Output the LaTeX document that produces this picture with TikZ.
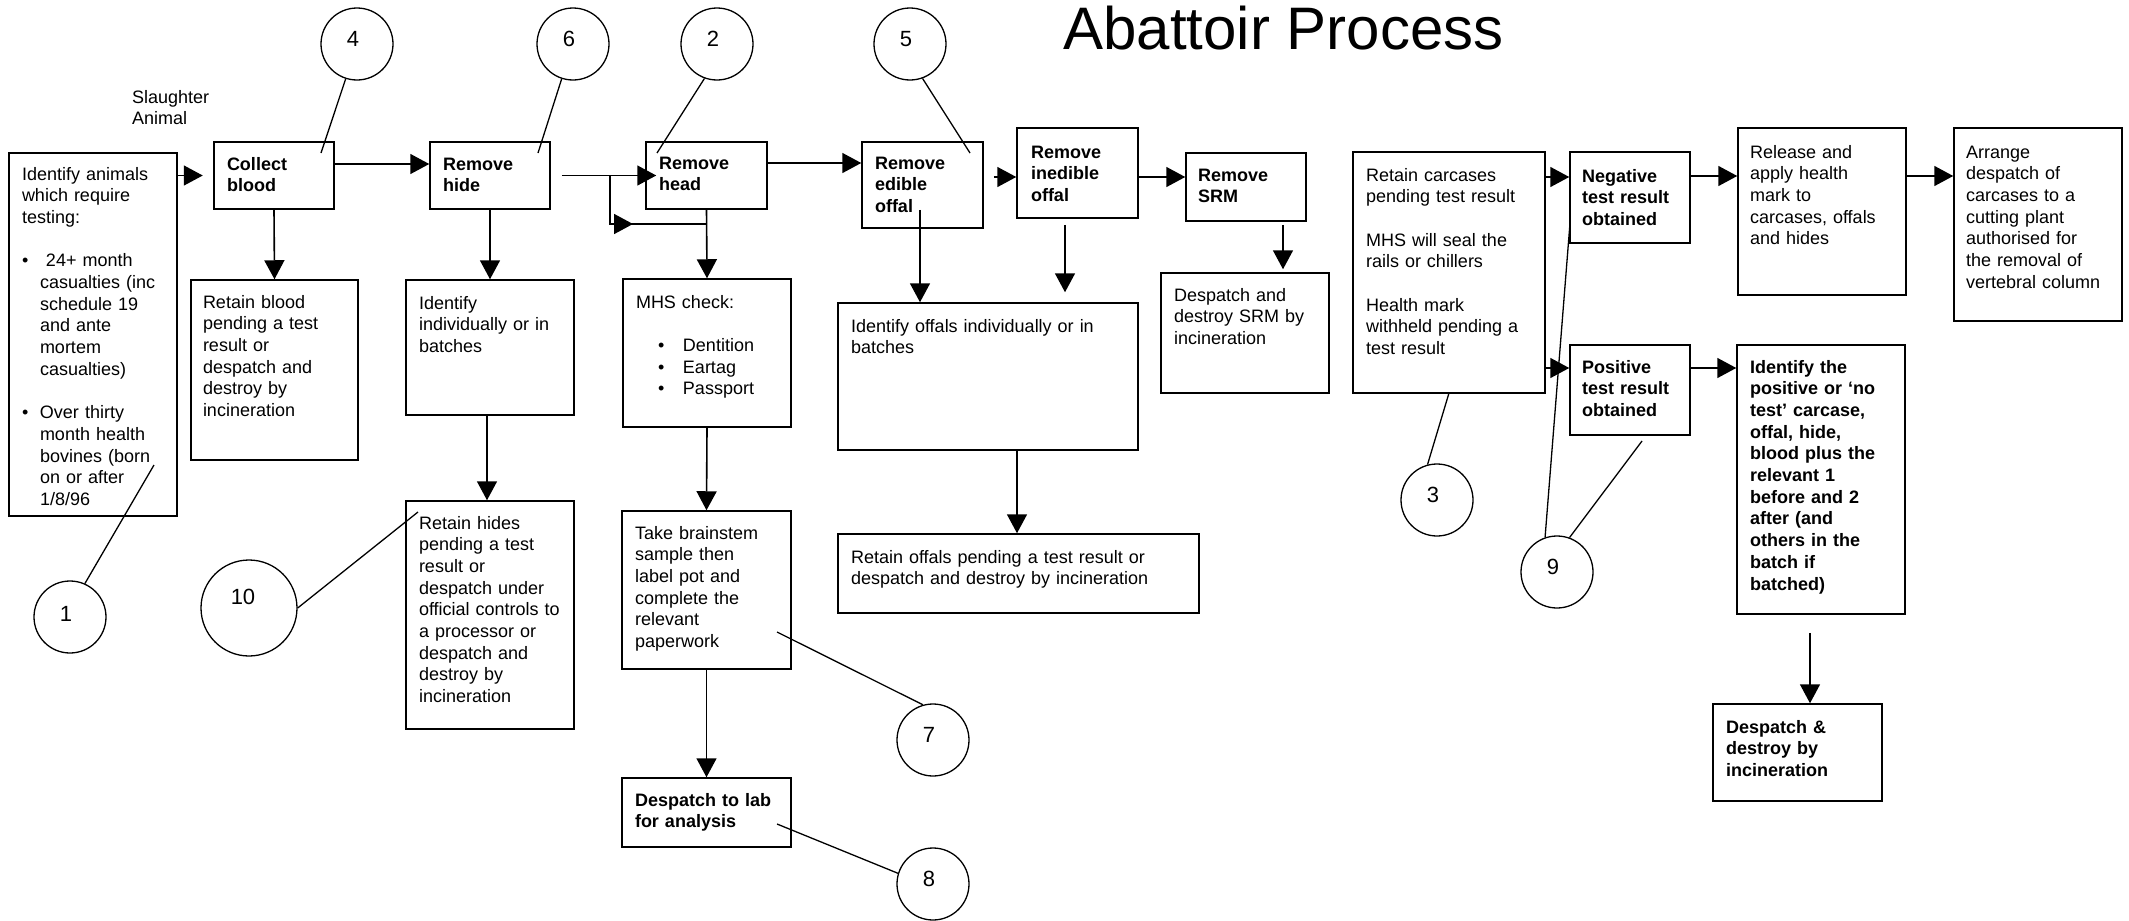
\documentclass[tikz,border=0pt]{standalone}
\usepackage{fontspec}
\setmainfont{Liberation Sans}
\usetikzlibrary{arrows.meta,fit,calc}
\begin{document}
\begin{tikzpicture}[x=1pt,y=-1pt,
  box/.style={draw, line width=1.5pt, inner sep=0pt},
  txt/.style={anchor=base west, inner sep=0pt, outer sep=0pt, align=left, font=\fontsize{18}{21.7}\selectfont},
  btxt/.style={txt, font=\fontsize{18}{21.7}\selectfont\bfseries},
  arr/.style={line width=1.6pt, -{Triangle[length=19pt,width=20pt]}},
  conn/.style={line width=1.6pt},
  num/.style={draw, circle, line width=1.3pt, minimum size=72pt, inner sep=0pt},
  numtxt/.style={inner sep=0pt, font=\fontsize{22}{26}\selectfont},
  lead/.style={line width=1.3pt}]
\fill[white] (0,0) rectangle (2129,921);
\useasboundingbox (0,0) rectangle (2129,921);

% title
\node[anchor=base, inner sep=0pt, font=\fontsize{60}{72}\selectfont] (title) at (1283.5,49) {Abattoir Process};
\node[txt, text width=100pt] (slaughter) at (132,103) {Slaughter\\Animal};

% boxes
\node[box, fit={(9,153) (177,516)}] (idA) {};
\node[box, fit={(214,142) (334,209)}] (collect) {};
\node[box, fit={(430,142) (550,209)}] (hide) {};
\node[box, fit={(646,142) (767,209)}] (head) {};
\node[box, fit={(862,142) (983,228)}] (edible) {};
\node[box, fit={(1017,128) (1138,218)}] (inedible) {};
\node[box, fit={(1186,153) (1306,221)}] (srm) {};
\node[box, fit={(1353,152) (1545,393)}] (carc) {};
\node[box, fit={(1570,152) (1690,243)}] (neg) {};
\node[box, fit={(1738,128) (1906,295)}] (release) {};
\node[box, fit={(1954,128) (2122,321)}] (arrange) {};
\node[box, fit={(1570,345) (1690,435)}] (pos) {};
\node[box, fit={(1737,345) (1905,614)}] (ident) {};
\node[box, fit={(1713,704) (1882,801)}] (desd) {};
\node[box, fit={(191,280) (358,460)}] (rblood) {};
\node[box, fit={(406,280) (574,415)}] (indiv) {};
\node[box, fit={(406,501) (574,729)}] (rhides) {};
\node[box, fit={(623,279) (791,427)}] (mhs) {};
\node[box, fit={(622,511) (791,669)}] (brain) {};
\node[box, fit={(622,778) (791,847)}] (lab) {};
\node[box, fit={(838,303) (1138,450)}] (ioffals) {};
\node[box, fit={(838,534) (1199,613)}] (roffals) {};
\node[box, fit={(1161,273) (1329,393)}] (dsrm) {};

% texts
\node[txt, text width=153pt] (t-idA) at (22,180) {Identify animals\\which require\\testing:\\[21.7pt]
\makebox[18pt][l]{\textbullet}\ 24+ month\\
\hspace*{18pt}casualties (inc\\
\hspace*{18pt}schedule 19\\
\hspace*{18pt}and ante\\
\hspace*{18pt}mortem\\
\hspace*{18pt}casualties)\\[21.7pt]
\makebox[18pt][l]{\textbullet}Over thirty\\
\hspace*{18pt}month health\\
\hspace*{18pt}bovines (born\\
\hspace*{18pt}on or after\\
\hspace*{18pt}1/8/96};
\node[btxt, text width=105pt] (t-collect) at (227,170) {Collect\\blood};
\node[btxt, text width=105pt] (t-hide) at (443,170) {Remove\\hide};
\node[btxt, text width=105pt] (t-head) at (659,169) {Remove\\head};
\node[btxt, text width=105pt] (t-edible) at (875,169) {Remove\\edible\\offal};
\node[btxt, text width=105pt] (t-inedible) at (1031,158) {Remove\\inedible\\offal};
\node[btxt, text width=105pt] (t-srm) at (1198,181) {Remove\\SRM};
\node[txt, text width=176pt] (t-carc) at (1366,181) {Retain carcases\\pending test result\\[21.7pt]MHS will seal the\\rails or chillers\\[21.7pt]Health mark\\withheld pending a\\test result};
\node[btxt, text width=106pt] (t-neg) at (1582,182) {Negative\\test result\\obtained};
\node[txt, text width=154pt] (t-release) at (1750,158) {Release and\\apply health\\mark to\\carcases, offals\\and hides};
\node[txt, text width=154pt] (t-arrange) at (1966,158) {Arrange\\despatch of\\carcases to a\\cutting plant\\authorised for\\the removal of\\vertebral column};
\node[btxt, text width=106pt] (t-pos) at (1582,373) {Positive\\test result\\obtained};
\node[btxt, text width=153pt] (t-ident) at (1750,373) {Identify the\\positive or ‘no\\test’ carcase,\\offal, hide,\\blood plus the\\relevant 1\\before and 2\\after (and\\others in the\\batch if\\batched)};
\node[btxt, text width=154pt] (t-desd) at (1726,733) {Despatch \&\\destroy by\\incineration};
\node[txt, text width=153pt] (t-rblood) at (203,308) {Retain blood\\pending a test\\result or\\despatch and\\destroy by\\incineration};
\node[txt, text width=153pt] (t-indiv) at (419,309) {Identify\\individually or in\\batches};
\node[txt, text width=153pt] (t-rhides) at (419,529) {Retain hides\\pending a test\\result or\\despatch under\\official controls to\\a processor or\\despatch and\\destroy by\\incineration};
\node[txt, text width=153pt] (t-mhs) at (636,308) {MHS check:\\[21.7pt]
\hspace*{22pt}\makebox[25pt][l]{\textbullet}Dentition\\
\hspace*{22pt}\makebox[25pt][l]{\textbullet}Eartag\\
\hspace*{22pt}\makebox[25pt][l]{\textbullet}Passport};
\node[txt, text width=154pt] (t-brain) at (635,539) {Take brainstem\\sample then\\label pot and\\complete the\\relevant\\paperwork};
\node[btxt, text width=154pt] (t-lab) at (635,806) {Despatch to lab\\for analysis};
\node[txt, text width=285pt] (t-ioffals) at (851,332) {Identify offals individually or in\\batches};
\node[txt, text width=346pt] (t-roffals) at (851,563) {Retain offals pending a test result or\\despatch and destroy by incineration};
\node[txt, text width=153pt] (t-dsrm) at (1174,301) {Despatch and\\destroy SRM by\\incineration};

% numbered circles
\node[num] (c4) at (357,44) {};
\node[num] (c6) at (573,44) {};
\node[num] (c2) at (717,44) {};
\node[num] (c5) at (910,44) {};
\node[num] (c1) at (70,617) {};
\node[num, minimum size=96pt] (c10) at (249,608) {};
\node[num] (c7) at (933,740) {};
\node[num] (c8) at (933,884) {};
\node[num] (c3) at (1437,500) {};
\node[num] (c9) at (1557,572) {};
\node[numtxt] (n4) at ($(c4)+(-4,-5)$) {4};
\node[numtxt] (n6) at ($(c6)+(-4,-5)$) {6};
\node[numtxt] (n2) at ($(c2)+(-4,-5)$) {2};
\node[numtxt] (n5) at ($(c5)+(-4,-5)$) {5};
\node[numtxt] (n1) at ($(c1)+(-4,-3)$) {1};
\node[numtxt] (n10) at ($(c10)+(-6,-11)$) {10};
\node[numtxt] (n7) at ($(c7)+(-4,-5)$) {7};
\node[numtxt] (n8) at ($(c8)+(-4,-5)$) {8};
\node[numtxt] (n3) at ($(c3)+(-4,-5)$) {3};
\node[numtxt] (n9) at ($(c9)+(-4,-5)$) {9};

% leader end points
\coordinate (p4) at (321,153);
\coordinate (p6) at (538,153);
\coordinate (p2) at (657,153);
\coordinate (p5) at (970,153);
\coordinate (p1) at (154,465);
\coordinate (p10) at (418,512);
\coordinate (p7) at (777,632);
\coordinate (p8) at (777,824);
\coordinate (p3) at (1449,393);
\coordinate (p9a) at (1570,223);
\coordinate (p9b) at (1642,441);

\draw[lead] (c4.252) -- (p4);
\draw[lead] (c6.252) -- (p6);
\draw[lead] (c2.250) -- (p2);
\draw[lead] (c5.290) -- (p5);
\draw[lead] (c1.66) -- (p1);
\draw[lead] (c10.east) -- (p10);
\draw[lead] (c7.106) -- (p7);
\draw[lead] (c8.163) -- (p8);
\draw[lead] (c3.105) -- (p3);
\draw[lead] (c9.109) -- (p9a);
\draw[lead] (c9.70) -- (p9b);

% arrows along the main line
\draw[arr] (idA.east |- collect.west) -- ++(25,0);
\draw[arr] (collect.east |- 0,164) -- (hide.west |- 0,164);
\draw[arr] ($(hide.east)+(11,0)$) -- ($(head.west)+(11,0)$);
\coordinate (br) at (610,175.5);
\draw[conn] (br) |- (head.south |- 0,224);
\draw[arr] (br |- 0,224) -- ++(23,0);
\draw[arr] (head.east |- 0,163) -- (edible.west |- 0,163);
\draw[arr] (edible.east |- 0,177) ++(10,0) -- (inedible.west |- 0,177);
\draw[arr] (inedible.east |- 0,177) -- (srm.west |- 0,177);
\draw[arr] (carc.east |- 0,177) -- (neg.west |- 0,177);
\draw[arr] (carc.east |- 0,368) -- (pos.west |- 0,368);
\draw[arr] (neg.east |- 0,176) -- (release.west |- 0,176);
\draw[arr] (release.east |- 0,176) -- (arrange.west |- 0,176);
\draw[arr] (pos.east |- 0,368) -- (ident.west |- 0,368);
\draw[arr] (ident.south -| 1810,0) ++(0,18) -- (desd.north -| 1810,0);

% downward arrows
\draw[arr] (collect.south) -- (rblood.north);
\draw[arr] (hide.south) -- (indiv.north);
\draw[arr] (indiv.south -| 487,0) -- (rhides.north -| 487,0);
\draw[arr] (head.south) -- (mhs.north);
\draw[arr] (mhs.south) -- (brain.north);
\draw[arr] (brain.south) -- (lab.north);
\draw[arr] (edible.south -| 920,0) ++(0,-19) -- (ioffals.north -| 920,0);
\draw[arr, shorten >=10pt] (inedible.south -| 1065,0) ++(0,6) -- (ioffals.north -| 1065,0);
\draw[arr, shorten >=3pt] (srm.south -| 1283,0) ++(0,3) -- (dsrm.north -| 1283,0);
\draw[arr] (ioffals.south -| 1017,0) -- (roffals.north -| 1017,0);
\end{tikzpicture}
\end{document}
